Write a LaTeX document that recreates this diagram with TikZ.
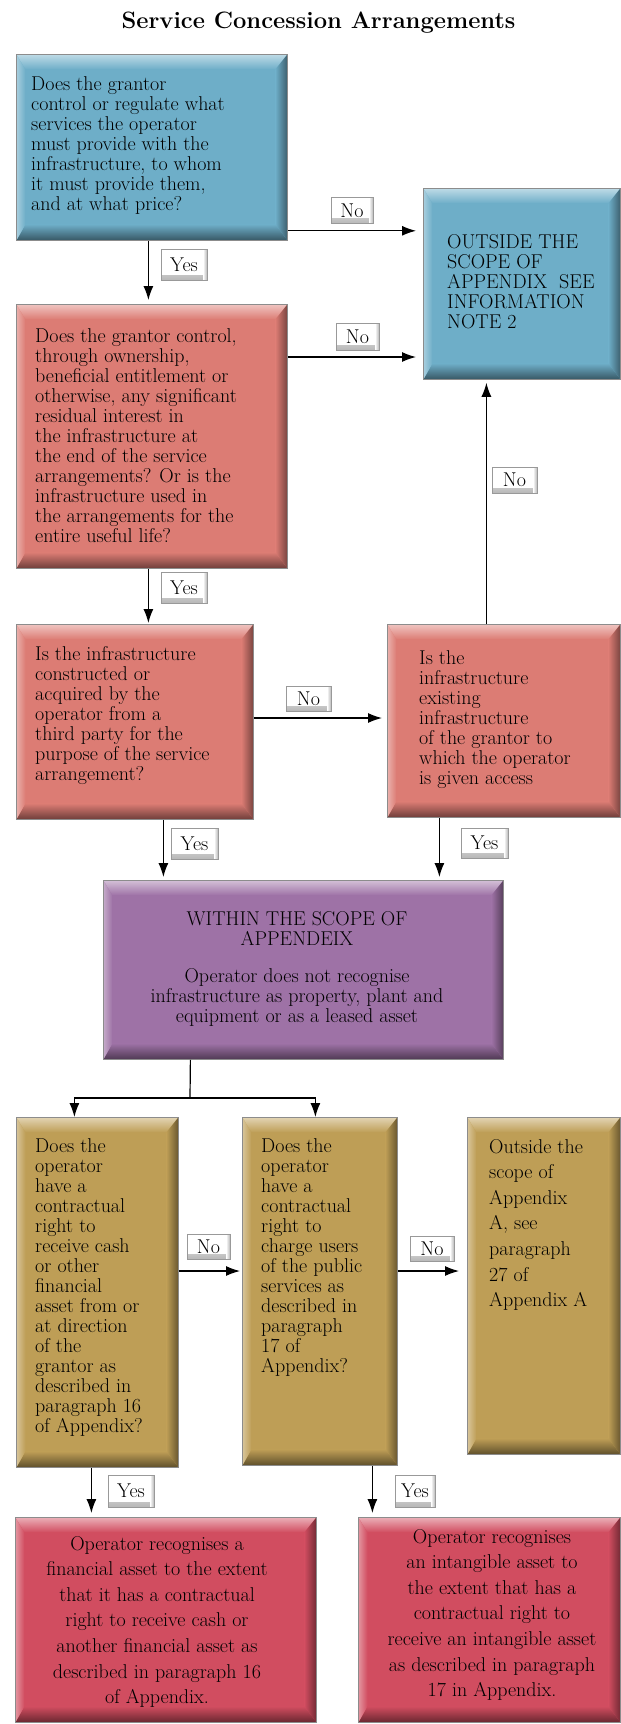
\documentclass[tikz,border=0pt]{standalone}
\usetikzlibrary{arrows.meta,calc}
\definecolor{cblue}{RGB}{110,174,200}
\definecolor{csalmon}{RGB}{220,124,116}
\definecolor{cpurple}{RGB}{158,114,166}
\definecolor{cgold}{RGB}{190,158,86}
\definecolor{ccrimson}{RGB}{209,77,96}
\newcommand{\LL}[1]{\begin{tabular}[t]{@{}l@{}}#1\end{tabular}}
\newcommand{\CL}[1]{\begin{tabular}[t]{@{}c@{}}#1\end{tabular}}
\newcommand{\fs}{\fontsize{20}{20}\selectfont}
\newcommand{\fw}{\fontsize{20}{25.6}\selectfont}
\begin{document}
\begin{tikzpicture}[x=1pt,y=-1pt,
  panel/.style={draw=black!45, line width=0.8pt, fill=#1, inner sep=0pt, anchor=north west,
    path picture={
      \coordinate (PNW) at (path picture bounding box.north west);
      \coordinate (PNE) at (path picture bounding box.north east);
      \coordinate (PSW) at (path picture bounding box.south west);
      \coordinate (PSE) at (path picture bounding box.south east);
      \shade[top color=#1!45!white, bottom color=#1] (PNW) -- (PNE) -- ([shift={(-12pt,-15pt)}]PNE) -- ([shift={(9pt,-15pt)}]PNW) -- cycle;
      \shade[top color=#1, bottom color=#1!50!black] (PSW) -- (PSE) -- ([shift={(-12pt,16pt)}]PSE) -- ([shift={(9pt,16pt)}]PSW) -- cycle;
      \shade[left color=#1, right color=#1!55!black] (PNE) -- (PSE) -- ([shift={(-12pt,16pt)}]PSE) -- ([shift={(-12pt,-15pt)}]PNE) -- cycle;
      \shade[left color=#1!60!white, right color=#1] (PNW) -- (PSW) -- ([shift={(9pt,16pt)}]PSW) -- ([shift={(9pt,-15pt)}]PNW) -- cycle;
    }},
  btn/.style={draw=black!40, line width=0.6pt, fill=white, inner sep=0pt, font=\fs,
    path picture={
      \shade[top color=white, bottom color=black!28] ([yshift=5pt]path picture bounding box.south west) rectangle (path picture bounding box.south east);
      \shade[left color=white, right color=black!28] ([xshift=-4pt]path picture bounding box.north east) rectangle (path picture bounding box.south east);
    }},
  txt/.style={inner sep=0pt, font=\fs, anchor=base west},
  ctxt/.style={inner sep=0pt, font=\fs, anchor=base},
  arr/.style={-{Latex[length=14pt,width=10pt]}, line width=1.2pt},
  ln/.style={line width=1.2pt}
]
\useasboundingbox (0,0) rectangle (621,1724);
\fill[white] (0,0) rectangle (621,1724);

\node[font=\fontsize{23.7}{28}\selectfont\bfseries, anchor=base, inner sep=0pt] (title) at (318.5,28) {Service Concession Arrangements};

% boxes
\node[panel=cblue, minimum width=271pt, minimum height=186pt] (b1) at (16,54) {};
\node[panel=cblue, minimum width=197pt, minimum height=191pt] (out) at (423,188) {};
\node[panel=csalmon, minimum width=271pt, minimum height=264pt] (b2) at (16,304) {};
\node[panel=csalmon, minimum width=237pt, minimum height=195pt] (b3) at (16,624) {};
\node[panel=csalmon, minimum width=233pt, minimum height=193pt] (b4) at (387,624) {};
\node[panel=cpurple, minimum width=400pt, minimum height=179pt] (within) at (103,880) {};
\node[panel=cgold, minimum width=162pt, minimum height=350pt] (b5) at (16,1117) {};
\node[panel=cgold, minimum width=155pt, minimum height=348pt] (b6) at (242,1117) {};
\node[panel=cgold, minimum width=153pt, minimum height=337pt] (b7) at (467,1117) {};
\node[panel=ccrimson, minimum width=301pt, minimum height=205pt] (b8) at (15,1517) {};
\node[panel=ccrimson, minimum width=262pt, minimum height=205pt] (b9) at (358,1517) {};

% texts
\node[txt] (t1) at (31,90) {\LL{Does the grantor\\control or regulate what\\services the operator\\must provide with the\\infrastructure, to whom\\it must provide them,\\and at what price?}};
\node[txt] (tout) at (447,248) {\LL{OUTSIDE THE\\SCOPE OF\\APPENDIX\ \ SEE\\INFORMATION\\NOTE 2}};
\node[txt] (t2) at (35,342) {\LL{Does the grantor control,\\through ownership,\\beneficial entitlement or\\otherwise, any significant\\residual interest in\\the infrastructure at\\the end of the service\\arrangements? Or is the\\infrastructure used in\\the arrangements for the\\entire useful life?}};
\node[txt] (t3) at (35,660) {\LL{Is the infrastructure\\constructed or\\acquired by the\\operator from a\\third party for the\\purpose of the service\\arrangement?}};
\node[txt] (t4) at (419,664) {\LL{Is the\\infrastructure\\existing\\infrastructure\\of the grantor to\\which the operator\\is given access}};
\node[ctxt] (tw) at (297,925) {\CL{WITHIN THE SCOPE OF\\APPENDEIX\\[17pt]Operator does not recognise\\infrastructure as property, plant and\\equipment or as a leased asset}};
\node[txt] (t5) at (35,1152) {\LL{Does the\\operator\\have a\\contractual\\right to\\receive cash\\or other\\financial\\asset from or\\at direction\\of the\\grantor as\\described in\\paragraph 16\\of Appendix?}};
\node[txt] (t6) at (261,1152) {\LL{Does the\\operator\\have a\\contractual\\right to\\charge users\\of the public\\services as\\described in\\paragraph\\17 of\\Appendix?}};
\node[txt, font=\fw] (t7) at (489,1153) {\LL{Outside the\\scope of\\Appendix\\A, see\\paragraph\\27 of\\Appendix A}};
\node[ctxt, font=\fw] (t8) at (157,1550) {\CL{Operator recognises a\\financial asset to the extent\\that it has a contractual\\right to receive cash or\\another financial asset as\\described in paragraph 16\\of Appendix.}};
\node[ctxt, font=\fw] (t9) at (492,1543) {\CL{Operator recognises\\an intangible asset to\\the extent that has a\\contractual right to\\receive an intangible asset\\as described in paragraph\\17 in Appendix.}};

% connectors
\coordinate (a1) at ([yshift=10pt]b1.south east);
\draw[arr, shorten >=7pt] (a1) -- (a1 -| out.west);
\coordinate (a2) at ([xshift=-3.5pt]b1.south);
\draw[arr, shorten >=4pt] (a2) -- (a2 |- b2.north);
\coordinate (a3) at ([yshift=-53pt]b2.north east);
\draw[arr, shorten >=7pt] (a3) -- (a3 -| out.west);
\coordinate (a4) at ([xshift=-3.5pt]b2.south);
\draw[arr, shorten >=1pt] (a4) -- (a4 |- b3.north);
\coordinate (a5) at ([yshift=-94pt]b3.north east);
\draw[arr, shorten >=5pt] (a5) -- (a5 -| b4.west);
\coordinate (a6) at ([xshift=-17.5pt]b4.north);
\draw[arr, shorten >=3pt] (a6) -- (a6 |- out.south);
\coordinate (a7) at ([xshift=28.5pt]b3.south);
\draw[arr, shorten >=3pt] (a7) -- (a7 |- within.north);
\coordinate (a8) at ([xshift=-64.5pt]b4.south);
\draw[arr, shorten >=3pt] (a8) -- (a8 |- within.north);
\coordinate (a9) at ([xshift=-113pt]within.south);
\coordinate (split) at (190,1098);
\draw[ln] (a9) -- (split);
\draw[arr] (split) -| ([xshift=-23pt]b5.north);
\draw[arr] (split) -| ([xshift=-4.5pt]b6.north);
\coordinate (a10) at ([yshift=-154pt]b5.north east);
\draw[arr, shorten >=2pt] (a10) -- (a10 -| b6.west);
\coordinate (a11) at ([yshift=-154pt]b6.north east);
\draw[arr, shorten >=8pt] (a11) -- (a11 -| b7.west);
\coordinate (a12) at ([xshift=-6pt]b5.south);
\draw[arr, shorten >=4pt] (a12) -- (a12 |- b8.north);
\coordinate (a13) at ([xshift=52.5pt]b6.south);
\draw[arr, shorten >=4pt] (a13) -- (a13 |- b9.north);

% labels
\node[btn, minimum width=42pt, minimum height=26pt] (n1) at (352,210.5) {No};
\node[btn, minimum width=46pt, minimum height=31pt] (y1) at (184,264.5) {Yes};
\node[btn, minimum width=43pt, minimum height=27pt] (n2) at (357.5,336.5) {No};
\node[btn, minimum width=45pt, minimum height=26pt] (n3) at (514.5,480) {No};
\node[btn, minimum width=46pt, minimum height=31pt] (y2) at (184,587.5) {Yes};
\node[btn, minimum width=45pt, minimum height=25pt] (n4) at (308.5,698.5) {No};
\node[btn, minimum width=47pt, minimum height=31pt] (y3) at (194.5,843.5) {Yes};
\node[btn, minimum width=47pt, minimum height=30pt] (y4) at (484.5,843) {Yes};
\node[btn, minimum width=43pt, minimum height=25pt] (n5) at (208.5,1246.5) {No};
\node[btn, minimum width=44pt, minimum height=25pt] (n6) at (432,1248.5) {No};
\node[btn, minimum width=46pt, minimum height=32pt] (y5) at (131,1491) {Yes};
\node[btn, minimum width=40pt, minimum height=32pt] (y6) at (415,1491) {Yes};
\end{tikzpicture}
\end{document}
